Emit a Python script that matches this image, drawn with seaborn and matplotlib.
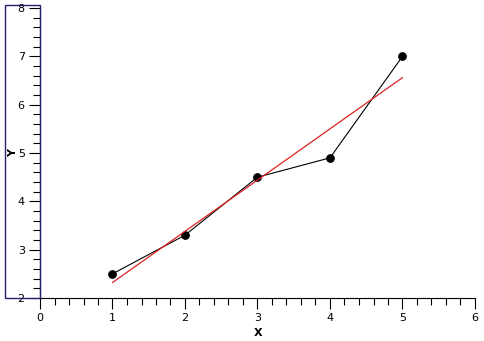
import matplotlib
matplotlib.use("Agg")
import matplotlib.pyplot as plt
import seaborn as sns
import pandas as pd
import numpy as np
from matplotlib.ticker import MultipleLocator
from matplotlib.patches import Rectangle

x_values = [1, 2, 3, 4, 5]
y_values = [2.5, 3.3, 4.5, 4.9, 7.0]
x_ticks = [0, 1, 2, 3, 4, 5, 6]
y_ticks = [2, 3, 4, 5, 6, 7, 8]

df = pd.DataFrame({"X": x_values, "Y": y_values})

sns.set_style("ticks")
plt.rcParams['font.family'] = ['Verdana', 'DejaVu Sans']
plt.rcParams['text.color'] = 'black'
plt.rcParams['axes.labelcolor'] = 'black'
plt.rcParams['xtick.color'] = 'black'
plt.rcParams['ytick.color'] = 'black'

fig = plt.figure(figsize=(4.84, 3.41), dpi=100)
ax = fig.add_axes([40/484, 43/341, 435/484, 290/341])

sns.lineplot(data=df, x="X", y="Y", ax=ax, color="black", linewidth=0.8,
             marker="o", markersize=5.5, markeredgecolor="black",
             markerfacecolor="black")
sns.regplot(data=df, x="X", y="Y", ax=ax, scatter=False, ci=None,
            color="#dd2222", line_kws={"linewidth": 0.9})

ax.set_xlim(0, 6)
ax.set_ylim(2, 8)
ax.set_xticks(x_ticks)
ax.set_yticks(y_ticks)
ax.xaxis.set_minor_locator(MultipleLocator(0.2))
ax.yaxis.set_minor_locator(MultipleLocator(0.2))
ax.tick_params(axis="both", which="both", bottom=True, left=True,
               top=False, right=False)
ax.tick_params(axis="both", which="major", length=8, width=0.8, color="black",
               labelsize=8, labelcolor="black", direction="out", pad=3)
ax.tick_params(axis="both", which="minor", length=5, width=0.8, color="black",
               direction="out")

for s in ["top", "right"]:
    ax.spines[s].set_visible(False)
for s in ["left", "bottom"]:
    ax.spines[s].set_color("black")
    ax.spines[s].set_linewidth(0.8)

ax.set_xlabel("X", fontsize=8, fontweight="bold")
ax.set_ylabel("Y", fontsize=8, fontweight="bold")
ax.xaxis.set_label_coords(218/435, -30/290)
ax.yaxis.set_label_coords(-22/435, 145/290)

# selection frame around the y axis
fig.patches.append(Rectangle((5/484, 43/341), 35/484, 293/341,
                             transform=fig.transFigure, fill=False,
                             edgecolor="#20206e", linewidth=1.0))

fig.savefig("out.png", dpi=100)
